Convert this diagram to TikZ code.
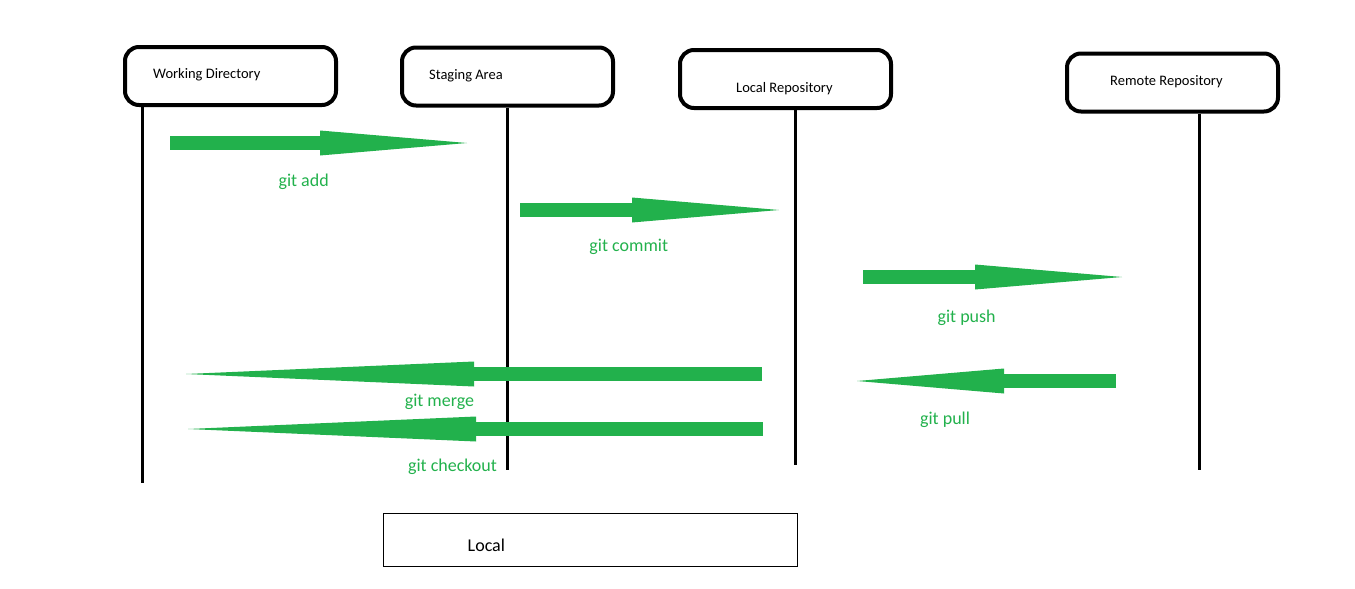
\documentclass[tikz,border=0pt]{standalone}
\usepackage{fontspec}
\setmainfont{Carlito}
\usepackage{xcolor}
\usepackage{tikz}
\usetikzlibrary{positioning,arrows.meta}
\definecolor{gitgreen}{RGB}{34,177,76}

\begin{document}
\begin{tikzpicture}[x=1pt, y=-1pt,
    area/.style={draw, line width=4pt, rounded corners=14pt, minimum width=211pt, minimum height=58pt},
    areatext/.style={inner sep=0pt, font=\fontsize{14.5}{16}\selectfont},
    lifeline/.style={line width=3.5pt},
    flow/.style={draw=gitgreen, line width=14pt, -{Triangle[length=#1, width=25pt, line width=0pt]}},
    flow/.default=147pt,
    command/.style={text=gitgreen, font=\fontsize{18}{20}\selectfont}]
    \useasboundingbox (0,0) rectangle (1355,589);
    % Areas
    \node[area] (wd) at (230.5,76) {};
    \node[areatext, right=30pt of wd.west, yshift=1pt] (wd-text) {Working Directory};
    \node[area] (sa) at (507.5,76.5) {};
    \node[areatext, right=29pt of sa.west, yshift=0.5pt] (sa-text) {Staging Area};
    \node[area] (lr) at (785.5,79) {};
    \node[areatext, right=58pt of lr.west, yshift=-10pt] (lr-text) {Local Repository};
    \node[area] (rr) at (1172.5,82.5) {};
    \node[areatext, right=45pt of rr.west, yshift=0.5pt] (rr-text) {Remote Repository};

    % Lifelines
    \coordinate (wd-bot) at (142.5,483);
    \coordinate (sa-bot) at (507.5,470);
    \coordinate (lr-bot) at (795.5,465);
    \coordinate (rr-bot) at (1199.5,470);
    \draw[lifeline] (wd.south -| wd-bot) -- (wd-bot);
    \draw[lifeline] (sa.south -| sa-bot) -- (sa-bot);
    \draw[lifeline] (lr.south -| lr-bot) -- (lr-bot);
    \draw[lifeline] (rr.south -| rr-bot) -- (rr-bot);

    % Arrow ends
    \coordinate (add-from) at (170,143);      \coordinate (add-to) at (467,143);
    \coordinate (commit-from) at (520,210);   \coordinate (commit-to) at (779,210);
    \coordinate (push-from) at (863,277);     \coordinate (push-to) at (1122,277);
    \coordinate (merge-from) at (762,374);    \coordinate (merge-to) at (186,374);
    \coordinate (checkout-from) at (763,429); \coordinate (checkout-to) at (188,429);
    \coordinate (pull-from) at (1116,381);    \coordinate (pull-to) at (857,381);

    % Arrows
    \draw[flow] (add-from) -- node[command, pos=.45, yshift=-39pt] (add) {git add} (add-to);
    \draw[flow] (commit-from) -- node[command, pos=.42, yshift=-37pt] (commit) {git commit} (commit-to);
    \draw[flow] (push-from) -- node[command, pos=.4, yshift=-41pt] (push) {git push} (push-to);
    \draw[flow=288pt] (merge-from) -- node[command, pos=.56, yshift=-28pt] (merge) {git merge} (merge-to);
    \draw[flow=288pt] (checkout-from) -- node[command, pos=.54, yshift=-38pt] (checkout) {git checkout} (checkout-to);
    \draw[flow] (pull-from) -- node[command, pos=.66, yshift=-39pt] (pull) {git pull} (pull-to);

    % Local
    \node[draw, line width=1pt, minimum width=414pt, minimum height=53pt] (local) at (590,539.5) {};
    \node[command, text=black, inner sep=0pt, right=85pt of local.west, yshift=-6pt] (local-text) {Local};
\end{tikzpicture}
\end{document}
